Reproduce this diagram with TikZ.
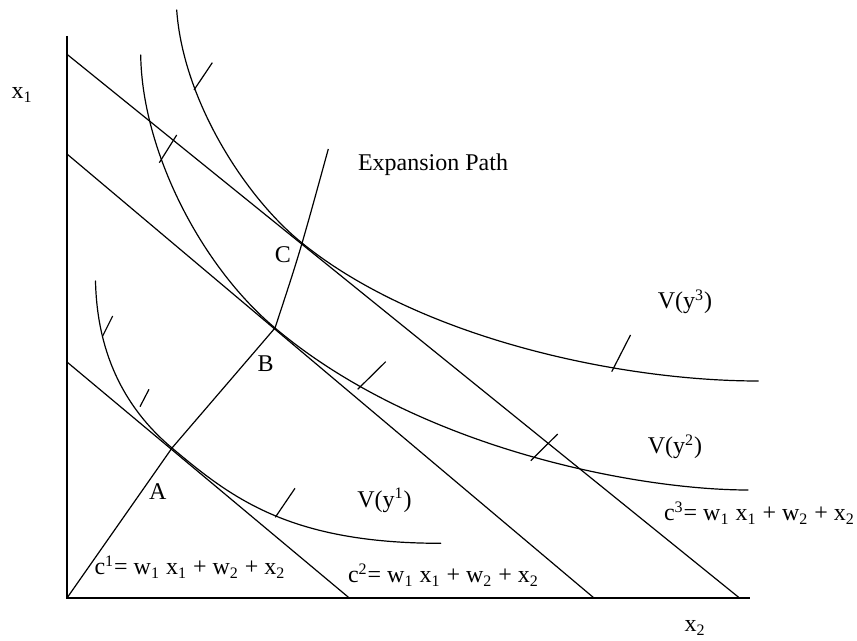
\documentclass[tikz,border=0pt]{standalone}
\usepackage{fontspec}
\setmainfont{Liberation Serif}

\begin{document}
\begin{tikzpicture}[x=0.5pt,y=-0.5pt]
\tikzset{
  axisline/.style={draw=black,line width=0.8pt},
  costline/.style={draw=black,line width=0.6pt,line cap=round},
  isoquant/.style={draw=black,line width=0.6pt,line cap=round},
  tickmark/.style={draw=black,line width=0.6pt},
  pathline/.style={draw=black,line width=0.6pt,line join=round},
  plainlabel/.style={inner sep=0pt,font=\fontsize{12}{14}\selectfont}
}
\useasboundingbox (0,0) rectangle (857,641);
% key points
\coordinate (p_O) at (67,598);
\coordinate (p_Ytop) at (67,36);
\coordinate (p_Xend) at (750,598);
\coordinate (p_A) at (172,448);
\coordinate (p_B) at (275,328);
\coordinate (p_C) at (302,243);
\coordinate (p_E) at (328.3,149);
% intercepts of the cost lines
\coordinate (c1_y) at (67,362);
\coordinate (c1_x) at (349.3,598);
\coordinate (c2_y) at (67,154);
\coordinate (c2_x) at (594,598);
\coordinate (c3_y) at (67,54.3);
\coordinate (c3_x) at (739.5,598);
% axes
\draw[axisline] (p_Ytop) -- (p_O) -- (p_Xend);
\node[plainlabel] (l_x1) at (22,95) {x\textsubscript{1}};
\node[plainlabel] (l_x2) at (695,628) {x\textsubscript{2}};
% cost lines
\draw[costline] (c1_y) -- (c1_x);
\draw[costline] (c2_y) -- (c2_x);
\draw[costline] (c3_y) -- (c3_x);
% isoquants
\draw[isoquant] (95.5,281) .. controls (97,350) and (122,406) .. (p_A)
  .. controls (232,498.4) and (290,543.3) .. (440.7,543.3);
\draw[isoquant] (140.7,55) .. controls (142,150) and (200,264.9) .. (p_B)
  .. controls (420,450) and (640,490) .. (748,490);
\draw[isoquant] (176.7,10) .. controls (183,100) and (245,197) .. (p_C)
  .. controls (420,338.3) and (620,381) .. (758.3,381);
% ticks
\draw[tickmark] (102.7,336) -- (112.7,316);
\draw[tickmark] (140,406.7) -- (149,389.3);
\draw[tickmark] (275.3,517.3) -- (295,488.3);
\draw[tickmark] (159.3,162.7) -- (176.7,135);
\draw[tickmark] (357.7,389.3) -- (385.7,361.7);
\draw[tickmark] (530.7,460.7) -- (557.7,434);
\draw[tickmark] (194,90) -- (212.3,62.7);
\draw[tickmark] (611.7,371.7) -- (630.5,335);
% expansion path
\draw[pathline] (p_O) -- (p_A) -- (p_B) .. controls (300,252) .. (p_E);
% labels
\node[plainlabel] (l_A) at (157.7,491.7) {A};
\node[plainlabel] (l_B) at (265.7,363.3) {B};
\node[plainlabel] (l_C) at (283,255) {C};
\node[plainlabel] (l_exp) at (433,165) {Expansion Path};
\node[plainlabel] (l_v1) at (384.5,500) {V(y\textsuperscript{1})};
\node[plainlabel] (l_v2) at (675,446.7) {V(y\textsuperscript{2})};
\node[plainlabel] (l_v3) at (685,301.7) {V(y\textsuperscript{3})};
\node[plainlabel] (l_c1) at (190,567) {c\textsuperscript{1}= w\textsubscript{1} x\textsubscript{1} + w\textsubscript{2} + x\textsubscript{2}};
\node[plainlabel] (l_c2) at (443.5,575) {c\textsuperscript{2}= w\textsubscript{1} x\textsubscript{1} + w\textsubscript{2} + x\textsubscript{2}};
\node[plainlabel] (l_c3) at (759.5,513) {c\textsuperscript{3}= w\textsubscript{1} x\textsubscript{1} + w\textsubscript{2} + x\textsubscript{2}};
\end{tikzpicture}
\end{document}
